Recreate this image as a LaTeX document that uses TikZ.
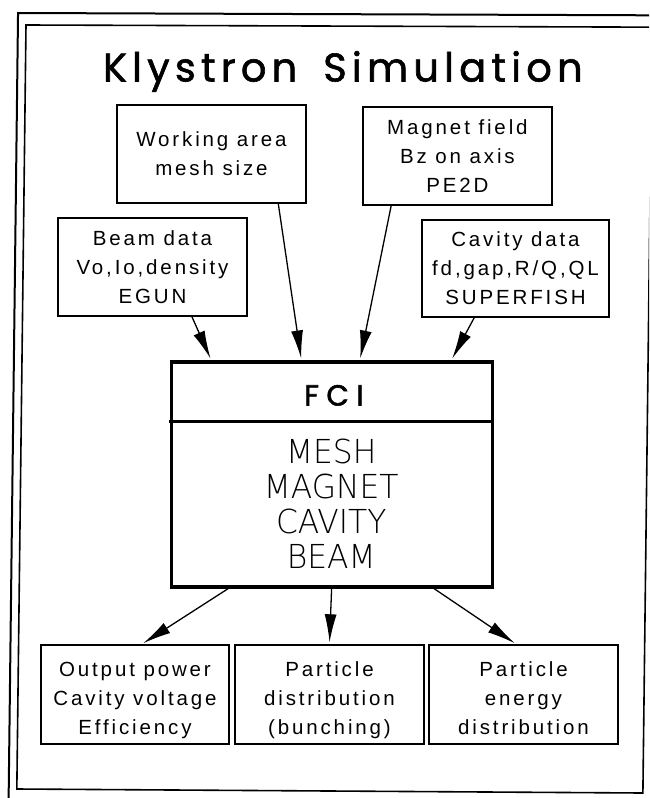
\documentclass[tikz,border=0pt]{standalone}
\usepackage{fontspec}
\usepackage{graphicx}
\setmainfont{Liberation Sans}
\newfontfamily\titlefont[LetterSpace=13,FakeBold=1.5]{Poppins}
\newfontfamily\fcifont[LetterSpace=26,FakeBold=2]{Poppins}
\newfontfamily\bodyfont[LetterSpace=14]{Liberation Sans}
\newfontfamily\modfont{DejaVu Sans ExtraLight}
\usetikzlibrary{arrows.meta,calc}
\newcommand\capstrut[1]{\rule{0pt}{#1}}
\newcommand\nx[1]{\scalebox{0.95}[1]{#1}}
\tikzset{
  box/.style={draw, line width=1.4pt, inner sep=0pt, align=center,
    font=\bodyfont\fontsize{20.5}{29}\selectfont},
  topbox/.style={box, minimum width=189pt, minimum height=98pt},
  outbox/.style={box, minimum width=189pt, minimum height=99pt},
  arr/.style={line width=1.3pt, -{Latex[length=28pt,width=12pt]}, shorten >=2pt},
}
\begin{document}
\begin{tikzpicture}[x=1pt,y=-1pt]
\useasboundingbox (0,0) rectangle (649,798);
\clip (0,0) rectangle (649,798);
\begin{scope}[cm={1,0,0.012,1,(4.8pt,0pt)}]
  % frames
  \draw[line width=2pt] (13.4,830) -- (13.4,13) -- (700,15.5);
  \draw[line width=1.6pt] (21.5,25) -- (660,27.2) -- (647.6,27) -- (647.6,793) -- (21.5,789) -- cycle;

  % title
  \node[anchor=base, inner sep=0pt, font=\titlefont\fontsize{40}{42}\selectfont] (title) at (339,81.5) {Klystron\hspace{26pt}Simulation};

  % input boxes
  \node[topbox] (work) at (208.5,154) {\capstrut{14.5pt}\smash{Working area}\\\smash{mesh size}};
  \node[topbox] (magnet) at (454.5,156) {\capstrut{14.5pt}\smash{Magnet field}\\\smash{Bz on axis}\\\smash{PE2D}};
  \node[topbox] (beam) at (150.9,267) {\capstrut{14.5pt}\smash{Beam data}\\\smash{Vo,Io,density}\\\smash{EGUN}};
  \node[topbox, minimum width=187pt, minimum height=97pt] (cavity) at (513.9,268.5) {\capstrut{14.5pt}\smash{Cavity data}\\\smash{fd,gap,R/Q,QL}\\\smash{SUPERFISH}};

  % FCI box
  \node[draw, line width=3.2pt, inner sep=0pt, minimum width=321pt, minimum height=225pt] (fci) at (332.5,474.5) {};
  \draw[line width=3.5pt] ($(fci.north west)+(0,61)$) coordinate (dl) -- ($(fci.north east)+(0,61)$) coordinate (dr);
  \node[anchor=base, inner sep=0pt, font=\fcifont\fontsize{29}{30}\selectfont] (fcil) at (334,405.5) {FCI};
  \node[inner sep=0pt, align=center, font=\modfont\fontsize{33}{35}\selectfont] (mods) at (332.5,503.5)
    {\capstrut{24pt}\smash{\nx{MESH}}\\\smash{\nx{MAGNET}}\\\smash{\nx{CAVITY}}\\\smash{\nx{BEAM}}};

  % output boxes
  \node[outbox, minimum width=188pt] (out1) at (138.5,694.5) {\capstrut{22pt}\smash{Output power}\\\smash{Cavity voltage}\\\smash{Efficiency}};
  \node[outbox] (out2) at (333,694.5) {\capstrut{22pt}\smash{Particle}\\\smash{distribution}\\\smash{(bunching)}};
  \node[outbox] (out3) at (527,694.5) {\capstrut{22pt}\smash{Particle}\\\smash{energy}\\\smash{distribution}};

  % arrows in
  \draw[arr] ($(beam.south west)!0.707!(beam.south east)$) -- ($(fci.north west)!0.129!(fci.north east)$);
  \draw[arr] ($(work.south west)!0.851!(work.south east)$) -- ($(fci.north west)!0.407!(fci.north east)$);
  \draw[arr] ($(magnet.south west)!0.152!(magnet.south east)$) -- ($(fci.north west)!0.587!(fci.north east)$);
  \draw[arr] ($(cavity.south west)!0.281!(cavity.south east)$) -- ($(fci.north west)!0.869!(fci.north east)$);

  % arrows out
  \draw[arr] ($(fci.south west)!0.181!(fci.south east)$) -- ($(out1.north west)!0.535!(out1.north east)$);
  \draw[arr] (fci.south) -- (out2.north);
  \draw[arr] ($(fci.south west)!0.816!(fci.south east)$) -- ($(out3.north west)!0.463!(out3.north east)$);
\end{scope}
\end{tikzpicture}
\end{document}
